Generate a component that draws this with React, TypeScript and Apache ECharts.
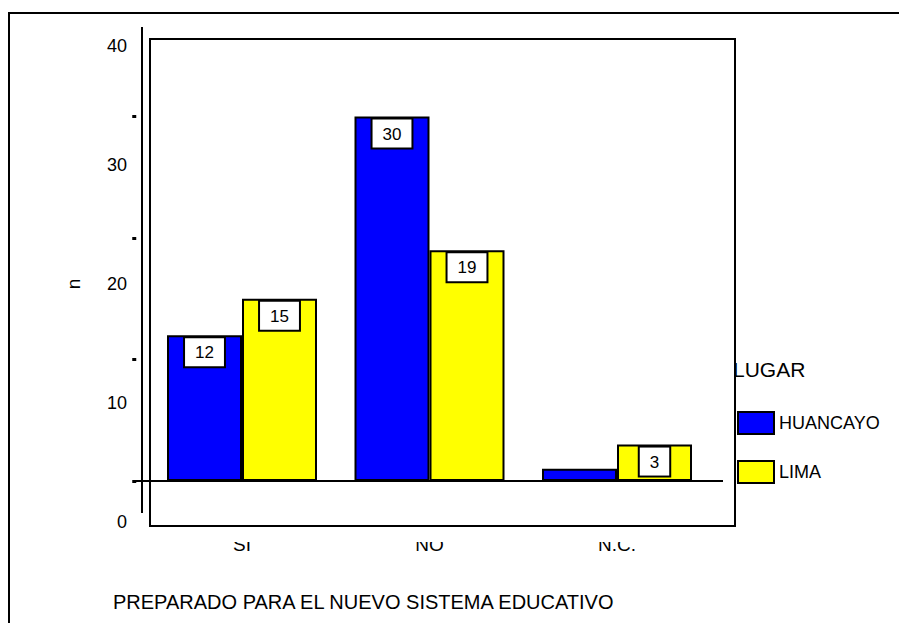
import React, { useEffect, useRef } from 'react';
import * as echarts from 'echarts';

const categories = ['SI', 'NO', 'N.C.'];
const huancayo = [12, 30, 1];
const lima = [15, 19, 3];
const seriesNames = ['HUANCAYO', 'LIMA'];
const seriesColors = ['#0000FF', '#FFFF00'];
const yMin = 0;
const yMax = 40;
const yInterval = 10;
const yTickValues = [0, 10, 20, 30];
const barAxisMax = 38;
const xTitle = 'PREPARADO PARA EL NUEVO SISTEMA EDUCATIVO';
const yTitle = 'n';
const legendTitle = 'LUGAR';

const FONT = "'Liberation Sans', Arial, sans-serif";

function makeSeries(name: string, values: number[], color: string) {
  return {
    type: 'bar',
    name,
    xAxisIndex: 0,
    yAxisIndex: 0,
    barGap: '0%',
    barCategoryGap: '20%',
    itemStyle: { color, borderColor: '#000', borderWidth: 2 },
    label: {
      show: true,
      position: 'insideTop',
      distance: 3,
      color: '#000',
      fontSize: 17,
      fontFamily: FONT,
      backgroundColor: '#fff',
      borderColor: '#000',
      borderWidth: 2,
      padding: [6, 10, 5, 10],
    },
    data: values.map((v) => ({ value: v, label: { show: v >= 2 } })),
  };
}

export default function App() {
  const ref = useRef<HTMLDivElement>(null);
  useEffect(() => {
    if (!ref.current) return;
    const chart = echarts.init(ref.current, null, { renderer: 'svg' });
    const pxPerUnit = 12.15;
    const baseY = 481;
    const barGridHeight = barAxisMax * pxPerUnit;
    const option: any = {
      animation: false,
      backgroundColor: '#fff',
      textStyle: { fontFamily: FONT },
      title: [
        {
          text: legendTitle,
          left: 733,
          top: 359,
          padding: 0,
          textStyle: { fontSize: 21, fontWeight: 'normal', color: '#000', fontFamily: FONT },
        },
        {
          text: xTitle,
          left: 113,
          top: 592,
          padding: 0,
          textStyle: { fontSize: 20, fontWeight: 'normal', color: '#000', fontFamily: FONT },
        },
      ],
      legend: {
        orient: 'vertical',
        left: 737,
        top: 411,
        itemWidth: 36,
        itemHeight: 22,
        itemGap: 25,
        padding: 0,
        icon: 'rect',
        textStyle: { fontSize: 18, color: '#000', fontFamily: FONT },
        data: seriesNames,
      },
      grid: [
        { left: 148.25, width: 562.5, top: baseY - barGridHeight, height: barGridHeight },
        { left: 135, width: 10, top: 46, height: 476 },
      ],
      xAxis: [
        {
          type: 'category',
          gridIndex: 0,
          data: categories,
          axisLine: { show: false },
          axisTick: { show: false },
          axisLabel: { margin: 54, fontSize: 19, color: '#000', fontFamily: FONT },
        },
        { type: 'value', gridIndex: 1, show: false },
      ],
      yAxis: [
        {
          type: 'value',
          gridIndex: 0,
          min: yMin,
          max: barAxisMax,
          interval: yInterval,
          offset: 12,
          axisLine: { show: false },
          axisTick: {
            show: true,
            length: 4,
            customValues: yTickValues,
            lineStyle: { color: '#000', width: 3 },
          },
          axisLabel: { show: false },
          splitLine: { show: false },
        },
        {
          type: 'value',
          gridIndex: 1,
          min: yMin,
          max: yMax,
          interval: yInterval,
          axisLine: { show: false },
          axisTick: { show: false },
          splitLine: { show: false },
          axisLabel: { margin: 8, fontSize: 18, color: '#000', fontFamily: FONT },
          name: yTitle,
          nameLocation: 'middle',
          nameGap: 52,
          nameTextStyle: { fontSize: 19, color: '#000', fontFamily: FONT },
        },
      ],
      graphic: [
        { type: 'line', shape: { x1: 9, y1: 13, x2: 899, y2: 13 }, style: { stroke: '#000', lineWidth: 2 } },
        { type: 'line', shape: { x1: 9, y1: 12, x2: 9, y2: 623 }, style: { stroke: '#000', lineWidth: 2 } },
        { type: 'line', shape: { x1: 142, y1: 27, x2: 142, y2: 513 }, style: { stroke: '#000', lineWidth: 2 } },
        {
          type: 'rect',
          shape: { x: 150, y: 39, width: 585, height: 487 },
          style: { fill: 'none', stroke: '#000', lineWidth: 2 },
        },
        {
          type: 'line',
          z: 50,
          shape: { x1: 136, y1: baseY, x2: 723, y2: baseY },
          style: { stroke: '#000', lineWidth: 2 },
        },
        {
          type: 'rect',
          z: 100,
          shape: { x: 152, y: 528, width: 580, height: 14 },
          style: { fill: '#fff', stroke: 'none' },
        },
      ],
      series: [
        makeSeries(seriesNames[0], huancayo, seriesColors[0]),
        makeSeries(seriesNames[1], lima, seriesColors[1]),
      ],
    };
    chart.setOption(option);
    return () => chart.dispose();
  }, []);
  return (
    <div
      ref={ref}
      style={{ position: 'fixed', left: 0, top: 0, width: 899, height: 623, background: '#fff' }}
    />
  );
}
